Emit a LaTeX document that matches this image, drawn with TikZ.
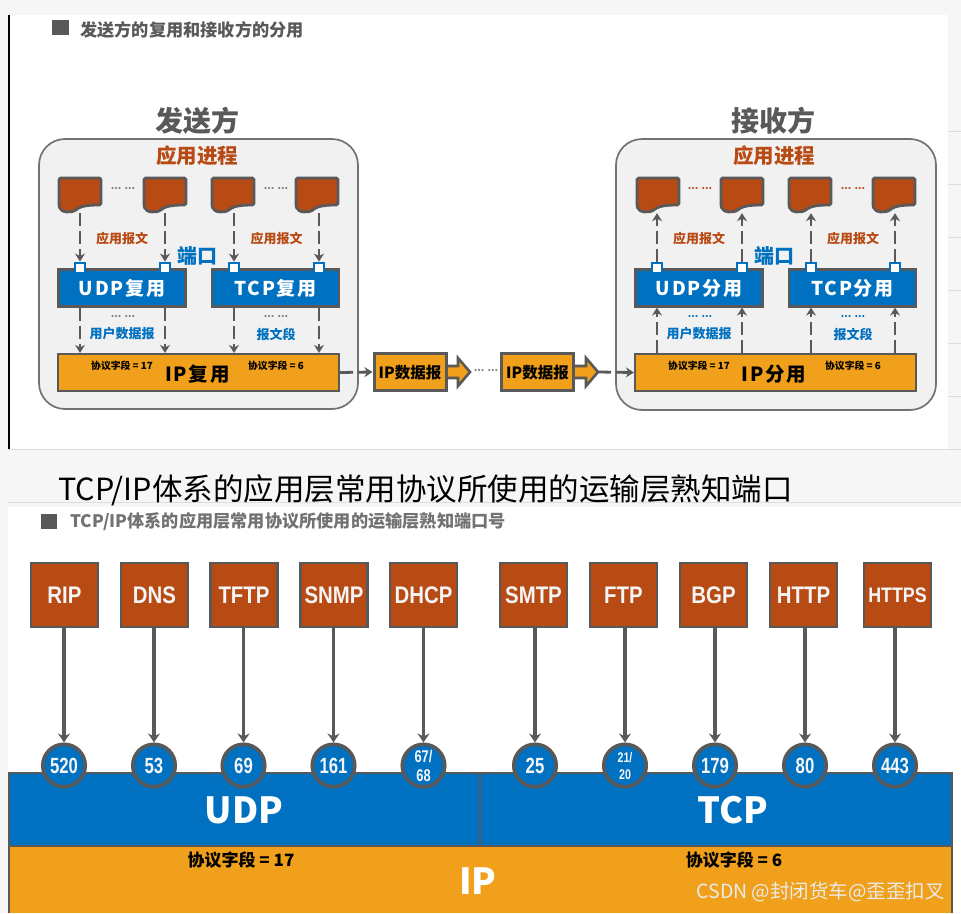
\documentclass[tikz,border=0pt]{standalone}
\usepackage{fontspec}
\setmainfont{Noto Sans CJK SC}
\newfontfamily\spaced[LetterSpace=9]{Noto Sans CJK SC}
\newfontfamily\boxfont[FakeStretch=0.85]{Liberation Sans}
\newfontfamily\discfont[FakeStretch=0.76]{Liberation Sans}
\usetikzlibrary{arrows.meta}
\definecolor{pageg}{HTML}{F6F6F6}
\definecolor{slate}{HTML}{595959}
\definecolor{panelg}{HTML}{F1F1F1}
\definecolor{rust}{HTML}{B84A14}
\definecolor{azure}{HTML}{0070C0}
\definecolor{amber}{HTML}{F0A01A}
\definecolor{rulegrey}{HTML}{DDDDDD}
\tikzset{
  txt/.style={inner sep=0pt,font=\bfseries\fontsize{#1}{#1}\selectfont},
  panel/.style={draw=slate!85,fill=panelg,line width=1.7pt,rounded corners=26pt},
  bluebox/.style={draw=slate,fill=azure,line width=2.2pt,inner sep=0pt,minimum height=37pt,minimum width=127pt},
  ipbox/.style={draw=slate,fill=amber,line width=2.2pt,inner sep=0pt,minimum height=37pt,minimum width=281pt},
  dgram/.style={draw=slate,fill=amber,line width=3pt,inner sep=0pt,minimum height=37pt,minimum width=72pt},
  portbox/.style={draw=azure,fill=white,line width=2.4pt,inner sep=0pt,minimum size=10.5pt},
  docanchor/.style={inner sep=0pt,minimum width=44pt,minimum height=36pt},
  docfill/.style={draw=slate,fill=rust,line width=2.8pt,rounded corners=1.5pt},
  flow/.style={draw=slate,line width=2.8pt,dash pattern=on 13pt off 5pt,-{Stealth[length=8pt,width=10pt]}},
  solidflow/.style={draw=slate,line width=3.2pt,-{Stealth[length=9pt,width=12pt]}},
  proto/.style={draw=slate,fill=rust,line width=2.8pt,minimum width=67pt,minimum height=64pt,inner sep=0pt,text=white!96!black,font=\boxfont\bfseries\fontsize{#1}{#1}\selectfont},
  portdisc/.style={circle,draw=slate,fill=azure,line width=3.6pt,minimum size=42.5pt,inner sep=0pt,text=white!96!black,align=center},
  band/.style={draw=slate,line width=2.4pt},
}
% sheet of paper with a wavy lower edge; the node gives the connectors an anchor
\newcommand{\sheet}[3]{%
  \node[docanchor] (#1) at (#2,#3) {};
  \draw[docfill] (#2-21,#3-17) -- (#2+21,#3-17) -- (#2+21,#3+10)
    .. controls (#2+8,#3+10) and (#2+2,#3+11) .. (#2-3,#3+14)
    .. controls (#2-8,#3+18) and (#2-19,#3+18) .. (#2-21,#3+11) -- cycle;
}
\begin{document}
\begin{tikzpicture}[x=1pt,y=-1pt]
\useasboundingbox (0,0) rectangle (961,913);
\fill[pageg] (0,0) rectangle (961,913);

% upper sheet and lower sheet
\fill[white] (9,15) rectangle (948,449);
\draw[black,line width=2pt] (9,15) -- (9,449);
\draw[rulegrey,line width=0.8pt] (8,449.5) -- (961,449.5);
\draw[rulegrey,line width=0.8pt] (8,502.5) -- (961,502.5);
\foreach \ypos in {131,184,237,290,343,396}
  \draw[rulegrey,line width=0.8pt] (948,\ypos) -- (961,\ypos);
\fill[white] (8,507) rectangle (961,913);

% heading of the upper sheet
\fill[slate] (52,20) rectangle (69,35);
\node[txt=17.2,text=slate,anchor=west] (headA) at (80,29.5) {发送方的复用和接收方的分用};

% both end systems
\draw[panel] (39,139) rectangle (358,409);
\draw[panel] (616,139) rectangle (936,410);
\node[txt=28,text=slate] (sendT) at (197,121) {发送方};
\node[txt=28,text=slate] (recvT) at (773,121) {接收方};
\node[txt=20.5,text=rust] (procS) at (197,156) {应用进程};
\node[txt=20.5,text=rust] (procR) at (774,156) {应用进程};

% sender: processes
\sheet{sa}{80}{195}
\sheet{sb}{165}{195}
\sheet{sc}{233}{195}
\sheet{sd}{317}{195}
\node[txt=10,text=slate!80] (sdotA) at (123,189) {... ...};
\node[txt=10,text=slate!80] (sdotB) at (276,189) {... ...};

% sender: multiplexers
\node[bluebox,text=white] (udpS) at (122,288) {\bfseries\spaced\fontsize{19}{19}\selectfont UDP复用};
\node[bluebox,text=white] (tcpS) at (275.5,288) {\bfseries\spaced\fontsize{19}{19}\selectfont TCP复用};
\node[ipbox] (ipS) at (198.5,372.5) {};
\node[txt=19.5,text=black] (ipSt) at (197.5,374.5) {\spaced IP复用};
\node[txt=9.8,text=black] (fS1) at (122,366) {协议字段 = 17};
\node[txt=9.8,text=black] (fS2) at (276,366) {协议字段 = 6};
\node[portbox] (pa) at (80,268) {};
\node[portbox] (pb) at (165,268) {};
\node[portbox] (pc) at (234,268) {};
\node[portbox] (pd) at (319,268) {};
\node[txt=20,text=azure] (portS) at (197,256) {端口};
\node[txt=13,text=rust] (msgS1) at (122,238.5) {应用报文};
\node[txt=13,text=rust] (msgS2) at (276.5,238.5) {应用报文};
\node[txt=10,text=slate!80] (sdotC) at (123,317) {... ...};
\node[txt=10,text=slate!80] (sdotD) at (276,317) {... ...};
\node[txt=13,text=azure] (dgS) at (122,334) {用户数据报};
\node[txt=13,text=azure] (segS) at (276,334) {报文段};

\draw[flow] (sa.south) -- (pa.north);
\draw[flow] (sb.south) -- (pb.north);
\draw[flow] (pc|-sc.south) -- (pc.north);
\draw[flow] (pd|-sd.south) -- (pd.north);
\draw[flow] (pa|-udpS.south) -- (pa|-ipS.north);
\draw[flow] (pb|-udpS.south) -- (pb|-ipS.north);
\draw[flow] (pc|-tcpS.south) -- (pc|-ipS.north);
\draw[flow] (pd|-tcpS.south) -- (pd|-ipS.north);

% datagrams on the way
\draw[draw=slate,fill=amber,line width=2.6pt,line join=miter]
  (445,366) -- (458,366) -- (458,358) -- (470,372) -- (458,386) -- (458,378) -- (445,378) -- cycle;
\draw[draw=slate,fill=amber,line width=2.6pt,line join=miter]
  (573,366) -- (586,366) -- (586,358) -- (598,372) -- (586,386) -- (586,378) -- (573,378) -- cycle;
\node[dgram] (dgA) at (410,372) {};
\node[dgram] (dgB) at (537.5,372) {};
\node[txt=15.5,text=black] (dgAt) at (410,372.5) {IP数据报};
\node[txt=15.5,text=black] (dgBt) at (537.5,372.5) {IP数据报};
\coordinate (tipA) at (470,372);
\coordinate (tipB) at (598,372);
\node[txt=10,text=slate!80] (gapdots) at (486,371) {... ...};

% receiver: processes
\sheet{ra}{658}{195}
\sheet{rb}{742}{195}
\sheet{rc}{810}{195}
\sheet{rd}{894}{195}
\node[txt=10,text=rust] (rdotA) at (700,189) {... ...};
\node[txt=10,text=rust] (rdotB) at (853,189) {... ...};

% receiver: demultiplexers
\node[bluebox,text=white] (udpR) at (699,288) {\bfseries\spaced\fontsize{19}{19}\selectfont UDP分用};
\node[bluebox,text=white] (tcpR) at (852.5,288) {\bfseries\spaced\fontsize{19}{19}\selectfont TCP分用};
\node[ipbox] (ipR) at (775.5,372.5) {};
\node[txt=19.5,text=black] (ipRt) at (774,374.5) {\spaced IP分用};
\node[txt=9.8,text=black] (fR1) at (699,366) {协议字段 = 17};
\node[txt=9.8,text=black] (fR2) at (853,366) {协议字段 = 6};
\node[portbox] (qa) at (657,268) {};
\node[portbox] (qb) at (742,268) {};
\node[portbox] (qc) at (811,268) {};
\node[portbox] (qd) at (895,268) {};
\node[txt=20,text=azure] (portR) at (774,256) {端口};
\node[txt=13,text=rust] (msgR1) at (699,238.5) {应用报文};
\node[txt=13,text=rust] (msgR2) at (853,238.5) {应用报文};
\node[txt=10,text=azure] (rdotC) at (700,317) {... ...};
\node[txt=10,text=azure] (rdotD) at (853,317) {... ...};
\node[txt=13,text=azure] (dgR) at (699,334) {用户数据报};
\node[txt=13,text=azure] (segR) at (853,334) {报文段};

\draw[flow] (qa.north) -- (qa|-ra.south);
\draw[flow] (qb.north) -- (qb|-rb.south);
\draw[flow] (qc.north) -- (qc|-rc.south);
\draw[flow] (qd.north) -- (qd|-rd.south);
\draw[flow] (qa|-ipR.north) -- (qa|-udpR.south);
\draw[flow] (qb|-ipR.north) -- (qb|-udpR.south);
\draw[flow] (qc|-ipR.north) -- (qc|-tcpR.south);
\draw[flow] (qd|-ipR.north) -- (qd|-tcpR.south);

\draw[flow] (ipS.east) -- (dgA.west);
\draw[flow] (tipB) -- (ipR.west);

% title written across the gap
\node[inner sep=0pt,anchor=west,text=black,font=\fontsize{30.5}{30.5}\selectfont] (hand) at (58,490) {TCP/IP体系的应用层常用协议所使用的运输层熟知端口};

% heading of the lower sheet
\fill[slate] (41,514) rectangle (57,529);
\node[txt=17.2,text=slate!85,anchor=west] (headB) at (70,522) {TCP/IP体系的应用层常用协议所使用的运输层熟知端口号};

% layer bands
\fill[azure] (9,773) rectangle (952,846);
\fill[amber] (9,846) rectangle (952,913);
\draw[band] (9,913) -- (9,773) -- (952,773) -- (952,913);
\draw[band] (9,846) -- (952,846);
\draw[band] (480,773) -- (480,846);
\node[txt=36,text=white] (udpL) at (244,810) {UDP};
\node[txt=36,text=white] (tcpL) at (733,810) {TCP};
\node[txt=36,text=white] (ipL) at (478,881) {IP};
\node[txt=17,text=black] (fL1) at (241,860) {协议字段 = 17};
\node[txt=17,text=black] (fL2) at (734,860) {协议字段 = 6};

% application protocols and their well-known ports
\foreach \nm/\bx/\cx/\pr/\pt/\ps/\bs in {
  a/64.5/64/RIP/520/22/24, b/154.5/154/DNS/53/22/24, c/244/243.5/TFTP/69/22/24, d/334/333.5/SNMP/161/22/24,
  e/423.5/423.5/DHCP/{67/\\[2pt]68}/17/24, f/533.5/535/SMTP/25/22/24, g/623.5/625/FTP/{21/\\[3pt]20}/14/24,
  h/713.5/715/BGP/179/22/24, i/803.5/805/HTTP/80/22/24, j/897.5/895/HTTPS/443/22/21}
{
  \node[proto=\bs] (box\nm) at (\bx,595) {\pr};
  \node[portdisc,font=\discfont\bfseries\fontsize{\ps}{\ps}\selectfont] (disc\nm) at (\cx,765.5) {\pt};
  \draw[solidflow] (disc\nm|-box\nm.south) -- (disc\nm.north);
}

% site mark in the corner
\node[inner sep=0pt,anchor=east,text=white!92!black,font=\fontsize{19.5}{19.5}\selectfont] (mark) at (945,892) {CSDN @封闭货车@歪歪扣叉};
\end{tikzpicture}
\end{document}
